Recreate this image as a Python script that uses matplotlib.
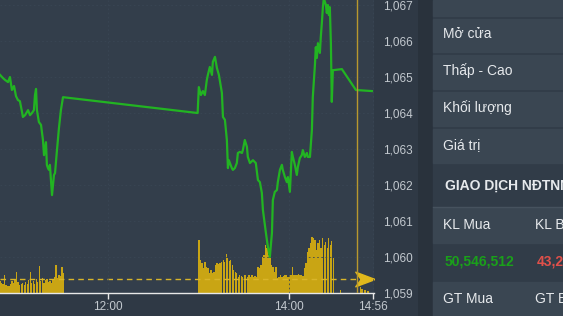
import matplotlib
matplotlib.use('Agg')
import matplotlib.pyplot as plt
from matplotlib.patches import Rectangle
from matplotlib.path import Path
from matplotlib.ticker import FuncFormatter

plt.rcParams['font.family'] = ['Liberation Sans', 'DejaVu Sans']

# index price, time in minutes after midnight
morning_t = [648.4, 650.4, 651.7, 653.7, 655.0, 656.3, 657.7, 659.0, 660.3, 661.6,
             663.0, 663.6, 665.0, 667.0, 668.3, 669.6, 670.9, 671.6, 672.3, 672.9,
             674.2, 675.6, 676.9, 677.6, 678.9, 679.5, 680.2, 680.9, 681.5, 682.9,
             684.2, 684.9, 686.2, 687.5, 688.8, 690.2]
morning_p = [1065.06, 1064.97, 1064.92, 1064.86, 1065.00, 1064.64, 1064.75, 1064.47, 1064.36, 1064.33,
             1064.03, 1063.89, 1063.94, 1064.08, 1063.94, 1064.00, 1064.08, 1064.50, 1064.67, 1064.08,
             1063.75, 1063.67, 1063.25, 1062.83, 1063.19, 1062.56, 1062.47, 1062.42, 1062.56, 1061.72,
             1062.28, 1062.33, 1062.97, 1063.58, 1064.08, 1064.44]

afternoon_t = [779.5, 780.3, 781.7, 783.0, 784.3, 785.6, 786.3, 787.6, 789.0, 789.6,
               791.0, 792.3, 793.6, 795.6, 796.3, 797.6, 798.9, 799.6, 800.2, 802.2,
               802.9, 804.2, 805.5, 806.2, 807.5, 808.9, 809.5, 810.8, 812.2, 812.8,
               814.2, 816.2, 818.1, 819.5, 820.8, 822.1, 822.8, 824.8, 826.1, 827.4,
               828.8, 829.4, 830.7, 832.1, 832.7, 834.1, 835.4, 836.0, 837.4, 838.7,
               839.4, 840.7, 842.0, 842.7, 844.0, 845.3, 846.0, 847.3, 848.6, 849.3,
               850.6, 852.0, 852.6, 854.0, 855.3, 855.9, 857.3, 857.9, 858.6, 859.3,
               860.6, 861.2, 861.9, 862.6, 863.2, 864.6, 865.2, 865.9, 866.6, 867.2,
               867.9, 868.5, 869.2, 875.2, 884.5, 895.1]
afternoon_p = [1064.00, 1064.72, 1064.50, 1064.61, 1064.50, 1064.92, 1065.06, 1065.28, 1065.06, 1065.42,
               1065.56, 1065.25, 1065.06, 1064.56, 1063.89, 1063.81, 1063.25, 1062.47, 1062.69, 1062.47,
               1062.42, 1062.47, 1062.61, 1062.89, 1062.92, 1062.89, 1062.97, 1063.25, 1063.06, 1062.78,
               1062.61, 1062.69, 1062.61, 1062.14, 1062.08, 1061.78, 1061.31, 1060.67, 1060.28, 1060.00,
               1060.67, 1061.58, 1061.81, 1061.86, 1062.08, 1062.42, 1062.56, 1062.42, 1062.22, 1062.08,
               1062.22, 1061.81, 1062.92, 1062.78, 1062.56, 1062.28, 1062.50, 1062.75, 1062.83, 1062.97,
               1062.78, 1062.89, 1062.78, 1062.78, 1063.53, 1064.44, 1065.33, 1065.83, 1065.53, 1065.94,
               1065.67, 1066.11, 1066.50, 1066.94, 1067.19, 1067.00, 1066.78, 1067.00, 1066.72, 1066.94,
               1065.94, 1064.31, 1065.19, 1065.22, 1064.64, 1064.61]

# volume per minute (10k shares)
vol_morning_start = 648
vol_morning = [12, 10, 9, 18, 8, 7, 7, 9, 12, 10, 14, 21, 11, 8, 9, 10, 8, 11, 9, 13,
               21, 10, 12, 9, 14, 11, 27, 12, 15, 10, 13, 14, 11, 12, 10, 14, 16, 28, 15, 18,
               17, 26, 20]
vol_afternoon_start = 780
vol_afternoon = [53, 33, 30, 25, 31, 26, 25, 20, 23, 20,
                 21, 28, 30, 29, 30, 31, 33, 31, 39, 35,
                 32, 33, 28, 23, 21, 20, 16, 18, 17, 16,
                 18, 18, 16, 18, 16, 18, 16, 17, 16, 26,
                 25, 28, 36, 38, 48, 45, 38, 35, 28, 26,
                 21, 26, 15, 16, 18, 16, 17, 18, 18, 16,
                 18, 18, 26, 18, 18, 18, 19, 18, 18, 17,
                 25, 30, 41, 45, 50, 56, 55, 53, 43, 50,
                 53, 45, 55, 48, 51, 45, 55, 48, 52, 35]
vol_late_t = [874, 887, 888, 890, 892]
vol_late = [3, 6, 4, 3, 2]
vol_avg = 14.5

xticks = [720, 840, 896]
xlabels = ['12:00', '14:00', '14:56']
yticks = [1059, 1060, 1061, 1062, 1063, 1064, 1065, 1066, 1067]
atc_time = 885

panel_labels = ['Mở cửa', 'Thấp - Cao', 'Khối lượng', 'Giá trị']
foreign_title = 'GIAO DỊCH NĐTNN'
foreign_cols = ['KL Mua', 'KL Bán']
foreign_vals = ['50,546,512', '43,215,890']
foreign_cols2 = ['GT Mua', 'GT Bán']

bg = '#333e4b'
gold = '#c9a514'
green = '#22b422'

fig = plt.figure(figsize=(5.63, 3.16), dpi=100)
fig.patch.set_facecolor('#2f3945')

pos = [0, 23 / 316, 374 / 563, 293 / 316]
axv = fig.add_axes(pos)
ax = fig.add_axes(pos, sharex=axv)
ax.patch.set_visible(False)

# volume
axv.set_facecolor(bg)
axv.bar([vol_morning_start + i for i in range(len(vol_morning))], vol_morning,
        width=0.92, color=gold, align='edge', linewidth=0)
axv.bar([vol_afternoon_start + i for i in range(len(vol_afternoon))], vol_afternoon,
        width=0.92, color=gold, align='edge', linewidth=0)
axv.bar(vol_late_t, vol_late, width=0.92, color=gold, align='edge', linewidth=0)
axv.axhline(vol_avg, color='#d9b52a', lw=1, ls=(0, (4, 3)))
arrow = Path([(-1, 0.75), (1, 0), (-1, -0.75), (-0.45, 0), (-1, 0.75)],
             [Path.MOVETO, Path.LINETO, Path.LINETO, Path.LINETO, Path.CLOSEPOLY])
axv.plot([890.5], [vol_avg], marker=arrow, markersize=14, color='#e0b81c', lw=0)
axv.set_ylim(0, 293)
axv.set_yticks([])
for s in axv.spines.values():
    s.set_visible(False)

# price
ax.plot(morning_t + afternoon_t, morning_p + afternoon_p, color=green, lw=1.6, zorder=3)
ax.axvline(atc_time, color='#b8982e', lw=1, zorder=4)
ax.set_xlim(648.4, 896.5)
ax.set_ylim(1059, 1067.14)
ax.set_xticks(xticks)
ax.set_xticklabels(xlabels)
ax.set_yticks(yticks)
ax.yaxis.set_major_formatter(FuncFormatter(lambda v, p: f'{int(v):,}'))
ax.yaxis.tick_right()
ax.tick_params(axis='y', length=0, pad=6.5, labelsize=8.5, labelcolor='#c3c9cf')
ax.tick_params(axis='x', length=4, width=1, color='#e8e8e8', pad=1.5,
               labelsize=8.5, labelcolor='#c3c9cf')
for k in ['top', 'left', 'right']:
    ax.spines[k].set_visible(False)
ax.spines['bottom'].set_color('#e8e8e8')
ax.spines['bottom'].set_linewidth(1)
ax.grid(True, color='#3a4654', lw=0.6, ls=(0, (2, 3)))
axv.tick_params(axis='x', length=0, labelbottom=False)

# right info panel (pixel coords)
pan = fig.add_axes([418 / 563, 0, 145 / 563, 1])
pan.set_xlim(418, 563)
pan.set_ylim(316, 0)
pan.axis('off')
pan.add_patch(Rectangle((418, 0), 15, 316, color='#29323c'))
pan.add_patch(Rectangle((433, 0), 130, 316, color='#313c48'))
for y0, y1 in [(0, 16), (19, 52), (55, 89), (92, 126), (129, 163), (208, 243), (282, 316)]:
    pan.add_patch(Rectangle((433, y0), 130, y1 - y0, color='#3a4652'))
pan.plot([433, 563], [207, 207], color='#46525e', lw=1)

tc = '#e6e9ec'
for lab, y in zip(panel_labels, [34, 71, 108, 145]):
    pan.text(443, y, lab, color=tc, fontsize=10, va='center')
pan.text(445, 186, foreign_title, color=tc, fontsize=10, fontweight='bold', va='center')
pan.text(443, 225, foreign_cols[0], color=tc, fontsize=10, va='center')
pan.text(535, 225, foreign_cols[1], color=tc, fontsize=10, va='center')
pan.text(445, 262, foreign_vals[0], color='#1aa01a', fontsize=10, fontweight='bold', va='center')
pan.text(537, 262, foreign_vals[1], color='#e0504a', fontsize=10, fontweight='bold', va='center')
pan.text(443, 299, foreign_cols2[0], color=tc, fontsize=10, va='center')
pan.text(535, 299, foreign_cols2[1], color=tc, fontsize=10, va='center')

fig.savefig('out.png', dpi=100, facecolor=fig.get_facecolor())
